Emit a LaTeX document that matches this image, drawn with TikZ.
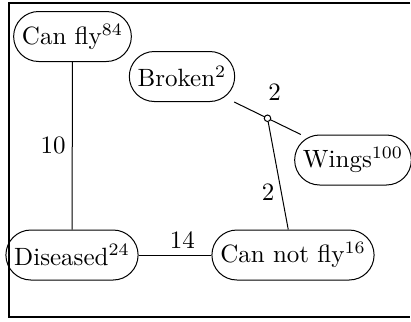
\documentclass[tikz,border=0pt]{standalone}
\usetikzlibrary{positioning}
\tikzset{entity/.style={draw,rectangle,rounded corners=10pt,minimum height=20pt},
  junction/.style={circle,draw,fill=white,inner sep=0pt,minimum size=2.6pt},
  weight/.style={inner sep=2.5pt}}

\begin{document}
\begin{tikzpicture}[x=0.4pt,y=-0.4pt]
  \useasboundingbox (0,0) rectangle (411,321);
  \draw[thick] (410,2.5) -- (8.5,2.5) -- (8.5,316.5) -- (410,316.5);
  \node[entity] (canfly) at (72.5,36.5) {Can fly$^{84}$};
  \node[entity] (broken) at (182,76.5) {Broken$^{2}$};
  \node[entity] (wings) at (353,160) {Wings$^{100}$};
  \node[entity] (diseased) at (72,255) {Diseased$^{24}$};
  \node[entity] (cannotfly) at (293,255) {Can not fly$^{16}$};
  \draw (canfly) -- node[weight,left] {10} (diseased);
  \draw (diseased) -- node[weight,above,pos=0.6] {14} (cannotfly);
  \draw (broken) -- node[junction,label={[xshift=2.8pt,label distance=2.2pt]above:2}] (hub) {} (wings);
  \draw (hub) -- node[weight,left,pos=0.65] {2} (cannotfly);
\end{tikzpicture}
\end{document}
